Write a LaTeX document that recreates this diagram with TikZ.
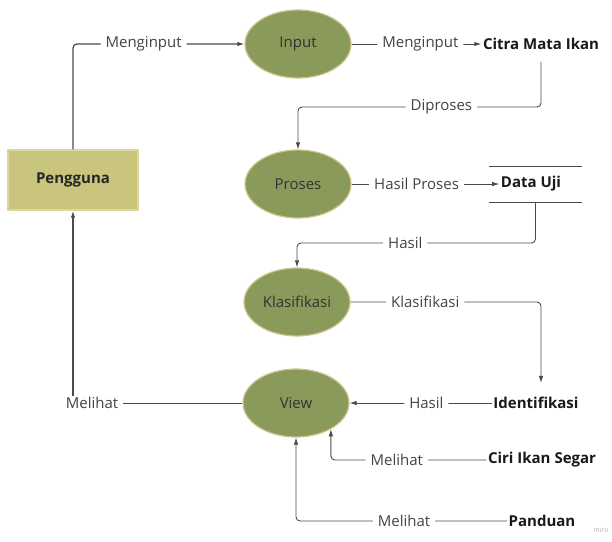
\documentclass[tikz,border=0pt]{standalone}
\usepackage{fontspec}
\setmainfont{Open Sans}
\usetikzlibrary{shapes.geometric,arrows.meta}
\definecolor{procfill}{HTML}{8A9A5B}
\definecolor{procedge}{HTML}{CFC68E}
\definecolor{entfill}{HTML}{C9C57C}
\definecolor{entedge}{HTML}{DDD6A0}
\definecolor{flowline}{HTML}{4A4A4A}
\definecolor{labeltext}{HTML}{444444}
\begin{document}
\begin{tikzpicture}[x=1pt,y=-1pt,
  font=\fontsize{15}{18}\selectfont,
  process/.style={ellipse, fill=procfill, draw=procedge, line width=1.2pt,
    minimum width=106pt, minimum height=68pt, inner sep=0pt, text=black!80},
  entity/.style={rectangle, fill=entfill, draw=entedge, line width=1.2pt,
    minimum width=130pt, minimum height=60pt, text=black!85,
    font=\fontsize{15}{18}\selectfont\bfseries},
  term/.style={inner xsep=1.5pt, inner ysep=3pt, text=black!90,
    font=\fontsize{15}{18}\selectfont\bfseries},
  storebox/.style={minimum width=93pt, minimum height=35pt, inner sep=0pt},
  flow/.style={draw=flowline, line width=0.9pt, rounded corners=4pt},
  arr/.style={flow, -{Latex[length=7pt,width=4.5pt]}},
  lbl/.style={fill=white, text=labeltext, inner xsep=5pt, inner ysep=1pt},
]
\useasboundingbox[fill=white] (0,0) rectangle (612,541);

% external entity
\node[entity] (pengguna) at (73,180) {Pengguna};

% processes
\node[process] (input)  at (298,44)  {Input};
\node[process] (proses) at (298,184) {Proses};
\node[process] (klas)   at (297,302) {Klasifikasi};
\node[process] (view)   at (296,403) {View};

% data items
\node[term] (citra) at (541,44) {Citra Mata Ikan};
\node[storebox] (store) at (535.5,184.5) {};
\draw[flowline, line width=1pt] (store.north west) -- (store.north east);
\draw[flowline, line width=1pt] (store.south west) -- (store.south east);
\node[term] (uji) at (531,184) {Data Uji};
\node[term, inner ysep=14pt] (ident) at (536,403) {Identifikasi};
\node[term] (ciri) at (542,460) {Ciri Ikan Segar};
\node[term] (panduan) at (542,521) {Panduan};

% flows
\draw[arr, line width=1.2pt] (pengguna.north) |- node[lbl, pos=0.706] {Menginput} (input.west);
\draw[arr] (input.east) -- node[lbl, pos=0.53] {Menginput} (citra.west);
\draw[arr] (citra.south) ++(0,9) -- (citra.south |- 0,107)
  -| node[lbl, pos=0.205] {Diproses} (proses.north);
\draw[arr] (proses.east) -- node[lbl, pos=0.44] {Hasil Proses} (uji.west);
\draw[arr] (store.south) -- (store.south |- 0,243)
  -| node[lbl, pos=0.273] {Hasil} (klas.north);
\draw[arr] (klas.east) -| node[lbl, pos=0.196] {Klasifikasi} (ident.north -| 541,0);
\draw[arr] (ident.west) -- node[lbl, pos=0.46] {Hasil} (view.east);
\draw[arr] (ciri.west) -| node[lbl, pos=0.288] {Melihat} (view.-37);
\draw[arr] (panduan.west) -| node[lbl, pos=0.244] {Melihat} (view.south);

\node[lbl] (lihat) at (92,403) {Melihat};
\draw[flow] (view.west) -- (lihat.east);
\draw[arr, line width=1.4pt] (lihat.north -| pengguna.south) -- (pengguna.south);

% watermark
\node[text=black!30, font=\fontsize{7}{8}\selectfont\itshape] (wm) at (601,530) {miro};
\end{tikzpicture}
\end{document}
